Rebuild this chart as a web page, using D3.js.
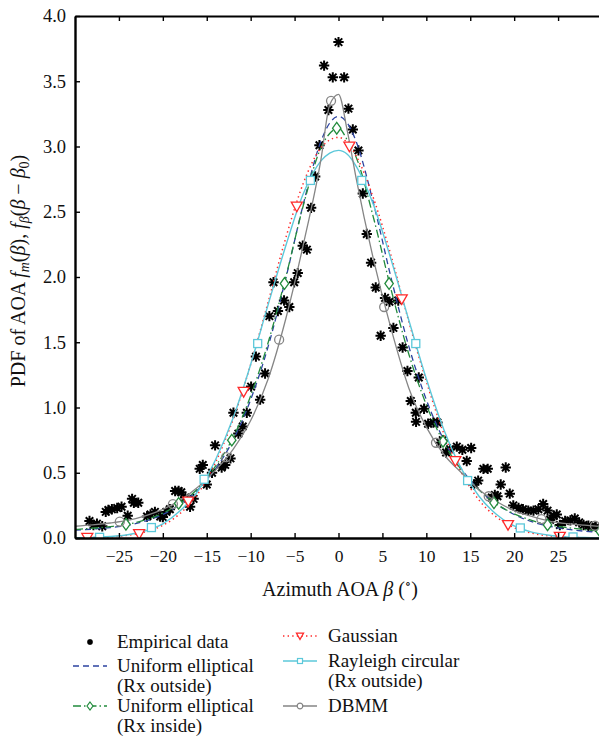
<!DOCTYPE html>
<html>
<head>
<meta charset="utf-8">
<script src="https://cdn.jsdelivr.net/npm/d3@7/dist/d3.min.js"></script>
<style>
  body { margin: 0; background: #fff; }
  svg text { font-family: 'Liberation Serif', 'DejaVu Serif', serif; fill: #111; }
</style>
</head>
<body>
<svg id="chart" width="599" height="737"></svg>
<script>
// ---- data ----
const xTickValues = [-25, -20, -15, -10, -5, 0, 5, 10, 15, 20, 25]
const yTickValues = [0, 0.5, 1, 1.5, 2, 2.5, 3, 3.5, 4]

// empirical AOA histogram samples [deg, pdf]
const empirical = [
  [-28.35, 0.13], [-27.9, 0.10], [-27.5, 0.11], [-26.9, 0.09], [-26.5, 0.20], [-26.2, 0.215],
  [-25.8, 0.22], [-25.2, 0.23], [-24.7, 0.24], [-24.0, 0.17], [-23.5, 0.30], [-23.3, 0.27],
  [-22.8, 0.27], [-21.8, 0.165], [-21.4, 0.18], [-20.9, 0.20], [-20.3, 0.165], [-20.0, 0.16],
  [-19.6, 0.20], [-19.2, 0.22], [-18.6, 0.36], [-18.2, 0.36], [-17.9, 0.35], [-17.45, 0.31],
  [-16.9, 0.24], [-16.5, 0.30], [-15.8, 0.53], [-15.45, 0.56], [-15.0, 0.41], [-14.4, 0.50],
  [-14.05, 0.71], [-13.3, 0.54], [-12.9, 0.56], [-12.3, 0.61], [-11.96, 0.96], [-11.4, 0.80],
  [-10.9, 0.855], [-10.44, 0.96], [-9.95, 1.16], [-9.4, 1.39], [-8.92, 1.06], [-8.36, 1.26],
  [-7.87, 1.70], [-7.4, 1.96], [-6.9, 1.74], [-6.2, 1.82], [-5.6, 1.77], [-5.05, 1.96],
  [-4.64, 2.03], [-4.07, 2.24], [-3.6, 2.21], [-3.12, 2.53], [-2.66, 2.77], [-2.17, 3.01],
  [-1.64, 3.62], [-1.15, 3.28], [-0.65, 3.53], [0.0, 3.80], [0.64, 3.53], [1.13, 3.29],
  [1.63, 3.13], [2.27, 2.97], [2.77, 2.64], [3.22, 2.33], [3.71, 2.11], [4.24, 1.92],
  [4.8, 1.55], [5.3, 1.84], [5.8, 1.81], [6.25, 1.61], [6.8, 1.82], [7.3, 1.46],
  [7.85, 1.28], [8.23, 1.05], [8.83, 0.89], [8.8, 0.96], [9.14, 1.23], [9.74, 0.99],
  [10.2, 0.875], [10.8, 0.885], [11.26, 0.885], [11.87, 0.75], [11.6, 0.73], [12.25, 0.655],
  [12.7, 0.68], [13.47, 0.70], [14.1, 0.676], [14.6, 0.59], [15.1, 0.69], [15.45, 0.41],
  [15.9, 0.44], [16.5, 0.53], [16.99, 0.53], [17.45, 0.31], [17.8, 0.33], [18.1, 0.32],
  [18.47, 0.41], [19.04, 0.54], [19.5, 0.34], [19.9, 0.25], [20.5, 0.23], [21.0, 0.22],
  [21.6, 0.21], [22.2, 0.21], [22.75, 0.22], [23.3, 0.26], [23.8, 0.21], [24.1, 0.14],
  [24.5, 0.17], [24.85, 0.18], [25.2, 0.10], [25.8, 0.13], [26.4, 0.135], [26.9, 0.15],
  [27.4, 0.12], [27.9, 0.10], [28.45, 0.094], [28.8, 0.089], [29.3, 0.085]
]

// model curves, sampled along the azimuth axis
const curveX = [-30, -28, -26, -24, -22, -20, -18, -16, -14, -12, -10, -8, -6, -4, -2, -1, 0,
  1, 2, 4, 6, 8, 10, 12, 14, 16, 18, 20, 22, 24, 26, 28, 30]

const ueOutside = [0.06, 0.068, 0.08, 0.097, 0.13, 0.18, 0.26, 0.37, 0.53, 0.75, 1.06, 1.47, 1.99,
  2.56, 3.04, 3.18, 3.23, 3.18, 3.04, 2.56, 1.99, 1.47, 1.06, 0.75, 0.53, 0.37, 0.26, 0.18, 0.125,
  0.09, 0.068, 0.052, 0.04]
const ueInside = [0.065, 0.075, 0.087, 0.105, 0.14, 0.19, 0.27, 0.38, 0.55, 0.77, 1.09, 1.50, 2.00,
  2.55, 2.99, 3.10, 3.14, 3.05, 2.92, 2.45, 1.90, 1.41, 1.02, 0.73, 0.52, 0.37, 0.26, 0.185, 0.135,
  0.10, 0.08, 0.065, 0.05]
const gaussian = [0.001, 0.003, 0.009, 0.021, 0.047, 0.097, 0.19, 0.34, 0.58, 0.91, 1.33, 1.81, 2.30,
  2.72, 2.99, 3.05, 3.07, 3.03, 2.93, 2.60, 2.16, 1.66, 1.20, 0.80, 0.50, 0.29, 0.16, 0.079, 0.037,
  0.016, 0.007, 0.002, 0.001]
const rayleigh = [0.002, 0.004, 0.011, 0.025, 0.054, 0.109, 0.21, 0.36, 0.60, 0.92, 1.33, 1.79, 2.24,
  2.64, 2.89, 2.95, 2.97, 2.94, 2.85, 2.55, 2.13, 1.67, 1.22, 0.83, 0.53, 0.32, 0.18, 0.092, 0.045,
  0.021, 0.009, 0.0035, 0.001]
const dbmm = [0.09, 0.10, 0.115, 0.135, 0.17, 0.22, 0.29, 0.39, 0.52, 0.68, 0.90, 1.22, 1.68,
  2.25, 2.90, 3.32, 3.40, 3.12, 2.76, 2.13, 1.60, 1.15, 0.85, 0.64, 0.50, 0.37, 0.28, 0.21, 0.165,
  0.13, 0.11, 0.098, 0.088]

// marker positions along each model curve
const ueInsideMarks = [[-24.2, 0.105], [-18.2, 0.265], [-12.15, 0.75], [-6.15, 1.95], [-0.2, 3.14],
  [5.76, 1.95], [11.9, 0.74], [17.7, 0.27], [23.8, 0.10], [29.8, 0.05]]
const gaussianMarks = [[-28.6, 0.002], [-22.7, 0.03], [-17.1, 0.28], [-10.8, 1.12], [-4.75, 2.54],
  [1.24, 3.0], [7.2, 1.83], [13.3, 0.59], [19.3, 0.10], [25.2, 0.01]]
const rayleighMarks = [[-27.2, 0.005], [-21.3, 0.08], [-15.3, 0.45], [-9.2, 1.49], [-3.2, 2.74],
  [2.65, 2.74], [8.8, 1.49], [14.7, 0.44], [20.7, 0.077], [26.7, 0.008]]
const dbmmMarks = [[-24.9, 0.125], [-18.85, 0.26], [-12.8, 0.62], [-6.76, 1.52], [-0.85, 3.35],
  [5.2, 1.77], [11.1, 0.73], [17.1, 0.32], [23.1, 0.145], [29.2, 0.094]]

// ---- layout ----
const svg = d3.select('#chart')
const margin = { left: 75, top: 16, bottom: 538 }
const x = d3.scaleLinear().domain([-30, 30]).range([margin.left, 602])
const y = d3.scaleLinear().domain([0, 4]).range([margin.bottom, margin.top])

svg.append('defs').append('clipPath').attr('id', 'plotClip')
  .append('rect')
  .attr('x', margin.left).attr('y', margin.top - 10)
  .attr('width', 602 - margin.left).attr('height', margin.bottom - margin.top + 10)

const plot = svg.append('g').attr('clip-path', 'url(#plotClip)')

const series = [
  { name: 'ueOutside', values: ueOutside, color: '#2c43a0', dash: '6,4', width: 1.3 },
  { name: 'ueInside', values: ueInside, color: '#228b3c', dash: '8,3,1.5,3', width: 1.3 },
  { name: 'gaussian', values: gaussian, color: '#ff2a2a', dash: '1.4,3.2', width: 1.5 },
  { name: 'rayleigh', values: rayleigh, color: '#5cc8da', dash: null, width: 1.4 },
  { name: 'dbmm', values: dbmm, color: '#858585', dash: null, width: 1.3 }
]

const line = d3.line()
  .x(d => x(d[0]))
  .y(d => y(d[1]))
  .curve(d3.curveMonotoneX)

// empirical asterisks drawn first so model lines stay visible
function starPath(s) {
  const k = s * 0.72
  return `M${-s},0L${s},0M0,${-s}L0,${s}M${-k},${-k}L${k},${k}M${-k},${k}L${k},${-k}`
}

plot.append('g')
  .selectAll('path')
  .data(empirical)
  .join('path')
  .attr('transform', d => `translate(${x(d[0])},${y(d[1])})`)
  .attr('d', starPath(5.2))
  .attr('stroke', '#000')
  .attr('stroke-width', 2)
  .attr('fill', 'none')

series.forEach(s => {
  plot.append('path')
    .datum(curveX.map((v, i) => [v, s.values[i]]))
    .attr('d', line)
    .attr('fill', 'none')
    .attr('stroke', s.color)
    .attr('stroke-width', s.width)
    .attr('stroke-dasharray', s.dash)
})

// ------------------
// Markers
// ------------------
function diamondPath(w, h) {
  return `M0,${-h}L${w},0L0,${h}L${-w},0Z`
}
function triPath(r) {
  return `M${-r},${-r * 0.8}L${r},${-r * 0.8}L0,${r * 0.95}Z`
}

plot.append('g').selectAll('path').data(ueInsideMarks).join('path')
  .attr('transform', d => `translate(${x(d[0])},${y(d[1])})`)
  .attr('d', diamondPath(4.2, 5.8))
  .attr('fill', '#fff').attr('stroke', '#228b3c').attr('stroke-width', 1.3)

plot.append('g').selectAll('path').data(gaussianMarks).join('path')
  .attr('transform', d => `translate(${x(d[0])},${y(d[1])})`)
  .attr('d', triPath(5.5))
  .attr('fill', '#fff').attr('stroke', '#ff2a2a').attr('stroke-width', 1.3)

plot.append('g').selectAll('rect').data(rayleighMarks).join('rect')
  .attr('x', d => x(d[0]) - 4).attr('y', d => y(d[1]) - 4)
  .attr('width', 8).attr('height', 8)
  .attr('fill', '#fff').attr('stroke', '#5cc8da').attr('stroke-width', 1.3)

plot.append('g').selectAll('circle').data(dbmmMarks).join('circle')
  .attr('cx', d => x(d[0])).attr('cy', d => y(d[1]))
  .attr('r', 4.5)
  .attr('fill', 'none').attr('stroke', '#858585').attr('stroke-width', 1.3)

// ------------------
// Axes (ticks point inward)
// ------------------
const bottomAxis = svg.append('g')
  .attr('transform', `translate(0,${margin.bottom})`)
  .call(d3.axisBottom(x).tickValues(xTickValues).tickSizeInner(-5).tickSizeOuter(0).tickPadding(12))
bottomAxis.select('.domain').attr('stroke-width', 2.4)
bottomAxis.selectAll('.tick line').attr('stroke-width', 1.4)
bottomAxis.selectAll('text')
  .attr('font-size', 17.5)
  .attr('font-family', "'Liberation Serif', serif")
  .attr('fill', '#111')

const topAxis = svg.append('g')
  .attr('transform', `translate(0,${margin.top})`)
  .call(d3.axisTop(x).tickValues(xTickValues).tickSizeInner(-5).tickSizeOuter(0).tickFormat(''))
topAxis.select('.domain').attr('stroke-width', 2)
topAxis.selectAll('.tick line').attr('stroke-width', 1.4)

const leftAxis = svg.append('g')
  .attr('transform', `translate(${margin.left},0)`)
  .call(d3.axisLeft(y).tickValues(yTickValues).tickSizeInner(-5).tickSizeOuter(0)
    .tickPadding(9).tickFormat(d3.format('.1f')))
leftAxis.select('.domain').attr('stroke-width', 2.4)
leftAxis.selectAll('.tick line').attr('stroke-width', 1.4)
leftAxis.selectAll('text')
  .attr('font-size', 18.5)
  .attr('font-family', "'Liberation Serif', serif")
  .attr('fill', '#111')

// ------------------
// Axis titles
// ------------------
const xTitle = svg.append('text')
  .attr('x', 340).attr('y', 596)
  .attr('text-anchor', 'middle')
  .attr('font-size', 20)
xTitle.append('tspan').text('Azimuth AOA ')
xTitle.append('tspan').attr('font-style', 'italic').text('β')
xTitle.append('tspan').text(' (')
xTitle.append('tspan').attr('font-size', 13).attr('dy', -8).text('∘')
xTitle.append('tspan').attr('dy', 8).text(')')

const yTitle = svg.append('text')
  .attr('transform', 'translate(25,271) rotate(-90)')
  .attr('text-anchor', 'middle')
  .attr('font-size', 20)
yTitle.append('tspan').text('PDF of AOA ')
yTitle.append('tspan').attr('font-style', 'italic').text('f')
yTitle.append('tspan').attr('font-style', 'italic').attr('font-size', 14).attr('dy', 4).text('m')
yTitle.append('tspan').attr('dy', -4).text('(')
yTitle.append('tspan').attr('font-style', 'italic').text('β')
yTitle.append('tspan').text('), ')
yTitle.append('tspan').attr('font-style', 'italic').text('f')
yTitle.append('tspan').attr('font-style', 'italic').attr('font-size', 14).attr('dy', 4).text('β')
yTitle.append('tspan').attr('dy', -4).text('(')
yTitle.append('tspan').attr('font-style', 'italic').text('β')
yTitle.append('tspan').text(' − ')
yTitle.append('tspan').attr('font-style', 'italic').text('β')
yTitle.append('tspan').attr('font-size', 14).attr('dy', 4).text('0')
yTitle.append('tspan').attr('dy', -4).text(')')

// ------------------
// Legend
// ------------------
const legendItems = [
  { col: 0, y: 642, lines: ['Empirical data'], type: 'star' },
  { col: 0, y: 666, lines: ['Uniform elliptical', '(Rx outside)'], type: 'ueOutside' },
  { col: 0, y: 706, lines: ['Uniform elliptical', '(Rx inside)'], type: 'ueInside' },
  { col: 1, y: 636, lines: ['Gaussian'], type: 'gaussian' },
  { col: 1, y: 661, lines: ['Rayleigh circular', '(Rx outside)'], type: 'rayleigh' },
  { col: 1, y: 706, lines: ['DBMM'], type: 'dbmm' }
]
const legendCols = [{ x0: 73, x1: 107, tx: 117 }, { x0: 283, x1: 317, tx: 328 }]
const seriesByName = Object.fromEntries(series.map(s => [s.name, s]))

const legend = svg.append('g')
legendItems.forEach(item => {
  const c = legendCols[item.col]
  const cx = (c.x0 + c.x1) / 2
  const g = legend.append('g')
  if (item.type === 'star') {
    g.append('path')
      .attr('transform', `translate(${cx},${item.y})`)
      .attr('d', starPath(3))
      .attr('stroke', '#000').attr('stroke-width', 1.6)
  } else {
    const s = seriesByName[item.type]
    g.append('line')
      .attr('x1', c.x0).attr('x2', c.x1).attr('y1', item.y).attr('y2', item.y)
      .attr('stroke', s.color).attr('stroke-width', s.width)
      .attr('stroke-dasharray', s.dash)
    const m = g.append('g').attr('transform', `translate(${cx},${item.y})`)
    if (item.type === 'ueInside') {
      m.append('path').attr('d', diamondPath(3, 4)).attr('fill', '#fff')
        .attr('stroke', s.color).attr('stroke-width', 1.2)
    } else if (item.type === 'gaussian') {
      m.append('path').attr('d', triPath(3.6)).attr('fill', '#fff')
        .attr('stroke', s.color).attr('stroke-width', 1.2)
    } else if (item.type === 'rayleigh') {
      m.append('rect').attr('x', -2.5).attr('y', -2.5).attr('width', 5).attr('height', 5)
        .attr('fill', '#fff').attr('stroke', s.color).attr('stroke-width', 1.2)
    } else if (item.type === 'dbmm') {
      m.append('circle').attr('r', 2.8).attr('fill', '#fff')
        .attr('stroke', s.color).attr('stroke-width', 1.2)
    }
  }
  item.lines.forEach((t, i) => {
    g.append('text')
      .attr('x', c.tx).attr('y', item.y + i * 20)
      .attr('dy', '0.3em')
      .attr('font-size', 19)
      .text(t)
  })
})
</script>
</body>
</html>
